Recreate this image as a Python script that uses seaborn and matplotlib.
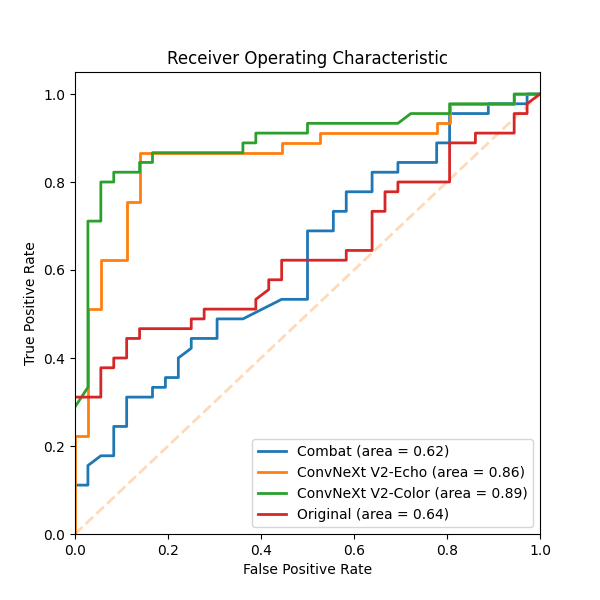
import numpy as np
import pandas as pd
import matplotlib
matplotlib.use("Agg")
import matplotlib.pyplot as plt
import seaborn as sns

# ROC vertices, as counts of false / true positives
N_NEG = 36
N_POS = 45

models = ["Combat", "ConvNeXt V2-Echo", "ConvNeXt V2-Color", "Original"]

combat_fp = [0, 1, 1, 2, 3, 3, 4, 4, 6, 6, 7, 7, 8, 8, 9, 9, 11, 11, 13, 16,
             18, 18, 20, 20, 21, 21, 23, 23, 25, 25, 28, 28, 29, 29, 32, 32, 35, 35, 36]
combat_tp = [5, 5, 7, 8, 8, 11, 11, 14, 14, 15, 15, 16, 16, 18, 19, 20, 20, 22, 22, 24,
             24, 31, 31, 33, 33, 35, 35, 37, 37, 38, 38, 40, 40, 43, 43, 44, 44, 45, 45]

echo_fp = [0, 0, 1, 1, 2, 2, 4, 4, 5, 5, 16, 16, 19, 19, 28, 28, 29, 29, 34, 34, 36]
echo_tp = [0, 10, 10, 23, 23, 28, 28, 34, 34, 39, 39, 40, 40, 41, 41, 42, 42, 44, 44, 45, 45]

color_fp = [0, 1, 1, 2, 2, 3, 3, 5, 5, 6, 6, 13, 13, 14, 14, 18, 18, 25, 26, 29, 29, 34, 34, 36]
color_tp = [13, 15, 32, 32, 36, 36, 37, 37, 38, 38, 39, 39, 40, 40, 41, 41, 42, 42, 43, 43, 44, 44, 45, 45]

orig_fp = [0, 2, 2, 3, 3, 4, 4, 5, 5, 9, 9, 10, 10, 14, 14, 15, 15, 16, 16, 21, 21, 23,
           23, 24, 24, 25, 25, 29, 29, 31, 31, 34, 34, 35, 35, 36]
orig_tp = [14, 14, 17, 17, 18, 18, 20, 20, 21, 21, 22, 22, 23, 23, 24, 25, 26, 26, 28, 28, 29, 29,
           33, 33, 35, 35, 36, 36, 40, 40, 41, 41, 43, 43, 44, 45]

curves = {
    "Combat": (combat_fp, combat_tp),
    "ConvNeXt V2-Echo": (echo_fp, echo_tp),
    "ConvNeXt V2-Color": (color_fp, color_tp),
    "Original": (orig_fp, orig_tp),
}

palette = sns.color_palette("tab10", 4)

fig, ax = plt.subplots(figsize=(6, 6), dpi=100)

# chance line sits under the curves
ax.plot([0, 1], [0, 1], color="#ffdab9", lw=2, linestyle="--", zorder=1)

for name, col in zip(models, palette):
    fp, tp = curves[name]
    df = pd.DataFrame({"fpr": np.array(fp) / N_NEG, "tpr": np.array(tp) / N_POS})
    auc = np.trapezoid(df["tpr"], df["fpr"])
    sns.lineplot(data=df, x="fpr", y="tpr", sort=False, estimator=None,
                 color=col, lw=2, label=f"{name} (area = {auc:.2f})", ax=ax)

ax.set_xlim([0.0, 1.0])
ax.set_ylim([0.0, 1.05])
ax.set_xlabel("False Positive Rate")
ax.set_ylabel("True Positive Rate")
ax.set_title("Receiver Operating Characteristic")
ax.legend(loc="lower right")

fig.savefig("out.png", dpi=100)
